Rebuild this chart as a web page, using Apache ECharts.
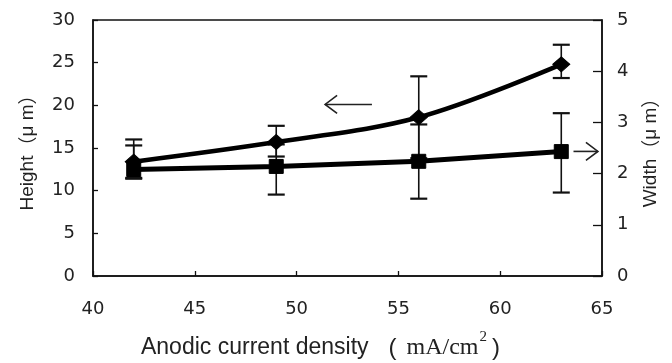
<!DOCTYPE html>
<html>
<head>
<meta charset="utf-8">
<script src="https://cdn.jsdelivr.net/npm/echarts@6/dist/echarts.min.js"></script>
<style>
html,body{margin:0;padding:0;background:#fff;}
#c{width:672px;height:363px;}
</style>
</head>
<body>
<div id="c"></div>
<script>
// ---- data ----
var density = [42, 49, 56, 63];
var heightVals = [13.4, 15.7, 18.6, 24.8];
var heightLow  = [11.5, 14.0, 13.8, 23.2];
var heightHigh = [16.0, 17.6, 23.4, 27.1];
var widthVals = [2.08, 2.14, 2.24, 2.43];
var widthLow  = [1.90, 1.59, 1.51, 1.63];
var widthHigh = [2.55, 2.57, 2.96, 3.18];
var xTicks = [40, 45, 50, 55, 60, 65];
var leftTicks = [0, 5, 10, 15, 20, 25, 30];
var rightTicks = [0, 1, 2, 3, 4, 5];
// annotation arrows in data coords (left axis): [tailX, tipX, y]
var arrowToLeft = [53.7, 51.4, 20.1];
var arrowToRight = [63.6, 64.8, 14.6];

var sans = '"Liberation Sans", "DejaVu Sans", sans-serif';
var tickFont = '"DejaVu Sans", sans-serif';
var cjk = '"Noto Sans CJK JP", sans-serif';
var chart = echarts.init(document.getElementById('c'));

function pairs(xs, ys) { return xs.map(function (x, i) { return [x, ys[i]]; }); }
function errData(xs, lo, hi) { return xs.map(function (x, i) { return [x, lo[i], hi[i]]; }); }

function errRender(params, api) {
  var x = api.value(0);
  var lo = api.coord([x, api.value(1)]);
  var hi = api.coord([x, api.value(2)]);
  var hw = 8.5;
  return {
    type: 'group',
    children: [
      { type: 'line', shape: { x1: lo[0], y1: lo[1], x2: hi[0], y2: hi[1] }, style: { stroke: '#111', lineWidth: 1.6 } },
      { type: 'line', shape: { x1: lo[0] - hw, y1: lo[1], x2: lo[0] + hw, y2: lo[1] }, style: { stroke: '#111', lineWidth: 2.2 } },
      { type: 'line', shape: { x1: hi[0] - hw, y1: hi[1], x2: hi[0] + hw, y2: hi[1] }, style: { stroke: '#111', lineWidth: 2.2 } }
    ]
  };
}

var labelStyle = { color: '#222', fontSize: 18, fontFamily: tickFont };
var yNameRich = {
  a: { fontSize: 19, fontFamily: sans, color: '#222' },
  p: { fontSize: 19, fontFamily: cjk, color: '#222' }
};

chart.setOption({
  animation: false,
  backgroundColor: '#fff',
  grid: { left: 93, right: 70, top: 20, bottom: 87, show: true, borderColor: '#111', borderWidth: 1.5, outerBoundsMode: 'none', containLabel: false },
  xAxis: {
    type: 'value', min: xTicks[0], max: xTicks[xTicks.length - 1], interval: 5,
    axisLine: { show: true, lineStyle: { color: '#111', width: 1.5 } },
    axisTick: { show: true, inside: true, length: 5, lineStyle: { color: '#111', width: 1.3 } },
    splitLine: { show: false },
    axisLabel: Object.assign({ margin: 24 }, labelStyle),
    name: '{a|Anodic current density}{p1|(}{b|mA/cm}{s|2}{p2|)}',
    nameLocation: 'middle', nameGap: 54,
    nameTextStyle: {
      padding: [0, 54, 0, 0],
      rich: {
        a: { fontSize: 23, lineHeight: 36, fontFamily: sans, color: '#222' },
        p1: { fontSize: 24, lineHeight: 36, fontFamily: sans, color: '#222', padding: [0, 10, 0, 20] },
        p2: { fontSize: 24, lineHeight: 36, fontFamily: sans, color: '#222', padding: [0, 0, 0, 5] },
        b: { fontSize: 24, lineHeight: 36, fontFamily: '"Liberation Serif", "DejaVu Serif", serif', color: '#222' },
        s: { fontSize: 15, lineHeight: 15, fontFamily: '"Liberation Serif", serif', color: '#222', verticalAlign: 'top', padding: [0, 0, 0, 1] }
      }
    }
  },
  yAxis: [
    {
      type: 'value', min: 0, max: 30, interval: 5, position: 'left',
      axisLine: { show: true, lineStyle: { color: '#111', width: 1.5 } },
      axisTick: { show: true, inside: true, length: 5, lineStyle: { color: '#111', width: 1.3 } },
      splitLine: { show: false },
      axisLabel: Object.assign({ margin: 18 }, labelStyle),
      name: '{a|Height}{p|（}{a|μ m}{p|）}', nameLocation: 'middle', nameGap: 56, nameRotate: 90,
      nameTextStyle: { rich: yNameRich }
    },
    {
      type: 'value', min: 0, max: 5, interval: 1, position: 'right',
      axisLine: { show: true, lineStyle: { color: '#111', width: 1.5 } },
      axisTick: { show: true, inside: true, length: 9, lineStyle: { color: '#111', width: 1.3 } },
      splitLine: { show: false },
      axisLabel: Object.assign({ margin: 15 }, labelStyle),
      name: '{a|Width}{p|（}{a|μ m}{p|）}', nameLocation: 'middle', nameGap: 39, nameRotate: 90,
      nameTextStyle: { rich: yNameRich }
    }
  ],
  series: [
    {
      name: 'Height err', type: 'custom', yAxisIndex: 0, renderItem: errRender,
      data: errData(density, heightLow, heightHigh), z: 3
    },
    {
      name: 'Width err', type: 'custom', yAxisIndex: 1, renderItem: errRender,
      data: errData(density, widthLow, widthHigh), z: 3
    },
    {
      name: 'Height', type: 'line', yAxisIndex: 0, smooth: 0.35,
      data: pairs(density, heightVals),
      symbol: 'diamond', symbolSize: [17, 15],
      lineStyle: { color: '#000', width: 4.5 },
      itemStyle: { color: '#000', borderColor: '#000' }, z: 5
    },
    {
      name: 'Width', type: 'line', yAxisIndex: 1,
      data: pairs(density, widthVals),
      symbol: 'rect', symbolSize: 14,
      lineStyle: { color: '#000', width: 5 },
      itemStyle: { color: '#000', borderColor: '#000' }, z: 5
    }
  ]
});

function arrowGraphic(a) {
  var tail = chart.convertToPixel({ xAxisIndex: 0, yAxisIndex: 0 }, [a[0], a[2]]);
  var tip = chart.convertToPixel({ xAxisIndex: 0, yAxisIndex: 0 }, [a[1], a[2]]);
  var dir = tip[0] < tail[0] ? 1 : -1;
  var st = { stroke: '#222', lineWidth: 1.6, fill: null };
  return [
    { type: 'line', shape: { x1: tail[0], y1: tail[1], x2: tip[0], y2: tip[1] }, style: st, z: 10 },
    { type: 'polyline', shape: { points: [[tip[0] + dir * 12, tip[1] - 9], [tip[0], tip[1]], [tip[0] + dir * 12, tip[1] + 9]] }, style: st, z: 10 }
  ];
}
chart.setOption({ graphic: arrowGraphic(arrowToLeft).concat(arrowGraphic(arrowToRight)) });
</script>
</body>
</html>
